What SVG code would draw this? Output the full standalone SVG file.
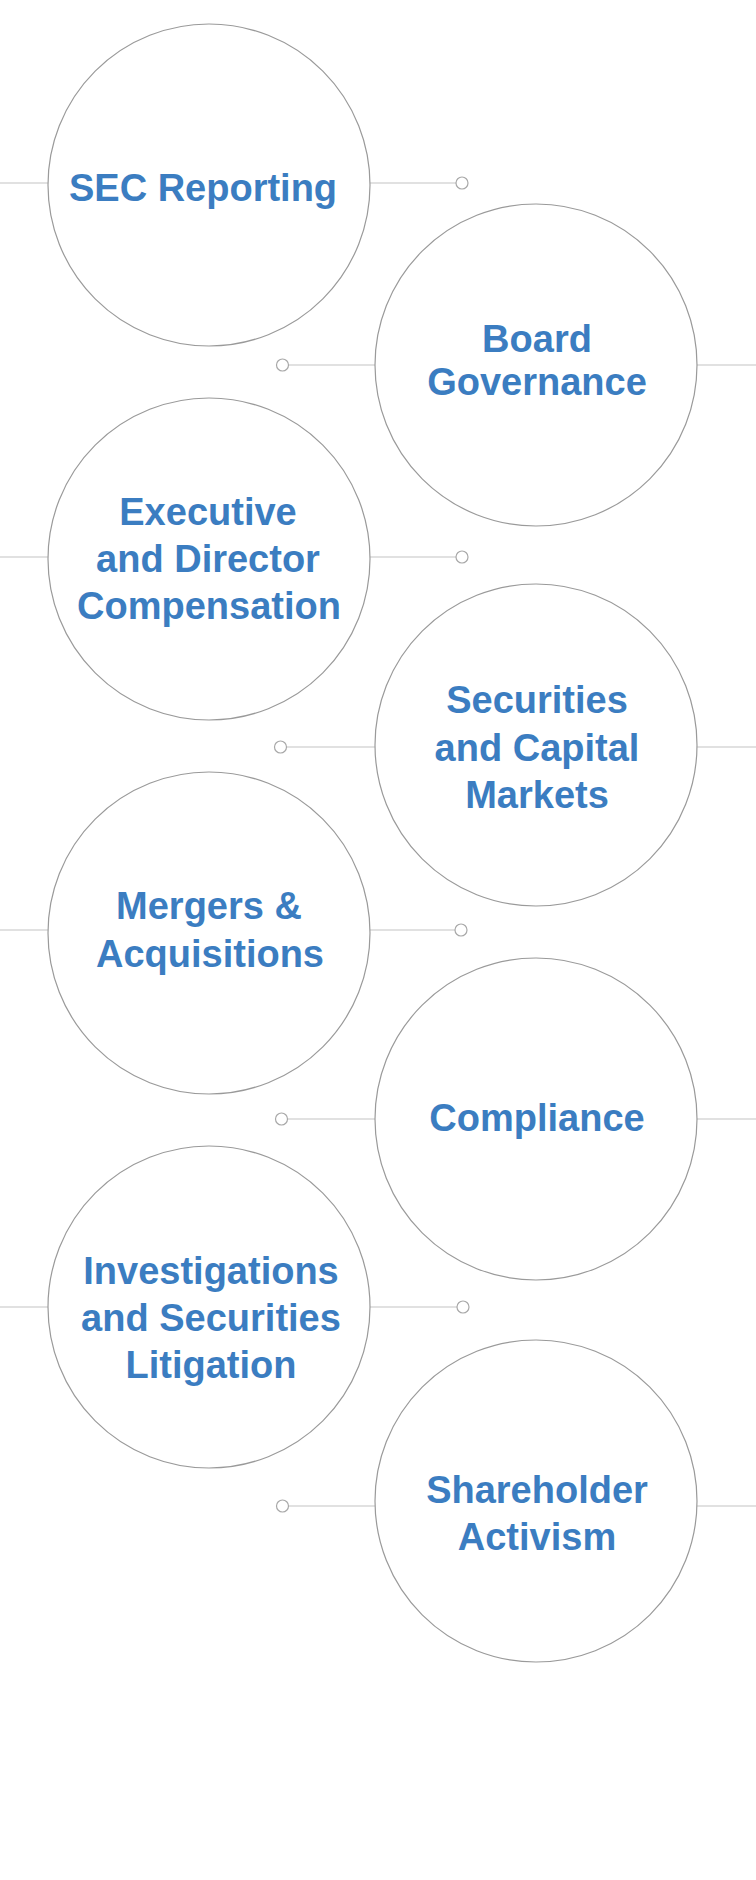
<svg xmlns="http://www.w3.org/2000/svg" width="756" height="1880" viewBox="0 0 756 1880">
<style>
.bg{fill:#ffffff}
.conn line{stroke:#c4c4c4;stroke-width:1.2}
.dot{fill:#ffffff;stroke:#a8a8a8;stroke-width:1.2}
.node circle{fill:#ffffff;stroke:#9a9a9a;stroke-width:1.2}
.node text{font-family:"Liberation Sans",Arial,Helvetica,sans-serif;font-weight:bold;font-size:38px;fill:#3b7dc1;text-anchor:middle}
</style>
<rect class="bg" x="0" y="0" width="756" height="1880"/>
<g id="connectors" class="conn">
  <line x1="0" y1="183" x2="48" y2="183"/>
  <line x1="370" y1="183" x2="456" y2="183"/>
  <circle class="dot" cx="462" cy="183" r="6"/>

  <line x1="288.5" y1="365" x2="375" y2="365"/>
  <line x1="697" y1="365" x2="756" y2="365"/>
  <circle class="dot" cx="282.5" cy="365" r="6"/>

  <line x1="0" y1="557" x2="48" y2="557"/>
  <line x1="370" y1="557" x2="456" y2="557"/>
  <circle class="dot" cx="462" cy="557" r="6"/>

  <line x1="286.5" y1="747" x2="375" y2="747"/>
  <line x1="697" y1="747" x2="756" y2="747"/>
  <circle class="dot" cx="280.5" cy="747" r="6"/>

  <line x1="0" y1="930" x2="48" y2="930"/>
  <line x1="370" y1="930" x2="455" y2="930"/>
  <circle class="dot" cx="461" cy="930" r="6"/>

  <line x1="287.5" y1="1119" x2="375" y2="1119"/>
  <line x1="697" y1="1119" x2="756" y2="1119"/>
  <circle class="dot" cx="281.5" cy="1119" r="6"/>

  <line x1="0" y1="1307" x2="48" y2="1307"/>
  <line x1="370" y1="1307" x2="457" y2="1307"/>
  <circle class="dot" cx="463" cy="1307" r="6"/>

  <line x1="288.5" y1="1506" x2="375" y2="1506"/>
  <line x1="697" y1="1506" x2="756" y2="1506"/>
  <circle class="dot" cx="282.5" cy="1506" r="6"/>
</g>
<g id="node-sec-reporting" class="node">
  <circle cx="209" cy="185" r="161"/>
  <text x="203" y="201">SEC Reporting</text>
</g>
<g id="node-board-governance" class="node">
  <circle cx="536" cy="365" r="161"/>
  <text x="537" y="352">Board</text>
  <text x="537" y="395">Governance</text>
</g>
<g id="node-exec-comp" class="node">
  <circle cx="209" cy="559" r="161"/>
  <text x="208" y="525">Executive</text>
  <text x="208" y="572">and Director</text>
  <text x="209" y="619">Compensation</text>
</g>
<g id="node-securities" class="node">
  <circle cx="536" cy="745" r="161"/>
  <text x="537" y="713">Securities</text>
  <text x="537" y="761">and Capital</text>
  <text x="537" y="808">Markets</text>
</g>
<g id="node-mergers" class="node">
  <circle cx="209" cy="933" r="161"/>
  <text x="209" y="919">Mergers &amp;</text>
  <text x="210" y="967">Acquisitions</text>
</g>
<g id="node-compliance" class="node">
  <circle cx="536" cy="1119" r="161"/>
  <text x="537" y="1131">Compliance</text>
</g>
<g id="node-investigations" class="node">
  <circle cx="209" cy="1307" r="161"/>
  <text x="211" y="1284">Investigations</text>
  <text x="211" y="1331">and Securities</text>
  <text x="211" y="1378">Litigation</text>
</g>
<g id="node-shareholder" class="node">
  <circle cx="536" cy="1501" r="161"/>
  <text x="537" y="1503">Shareholder</text>
  <text x="537" y="1550">Activism</text>
</g>
</svg>
